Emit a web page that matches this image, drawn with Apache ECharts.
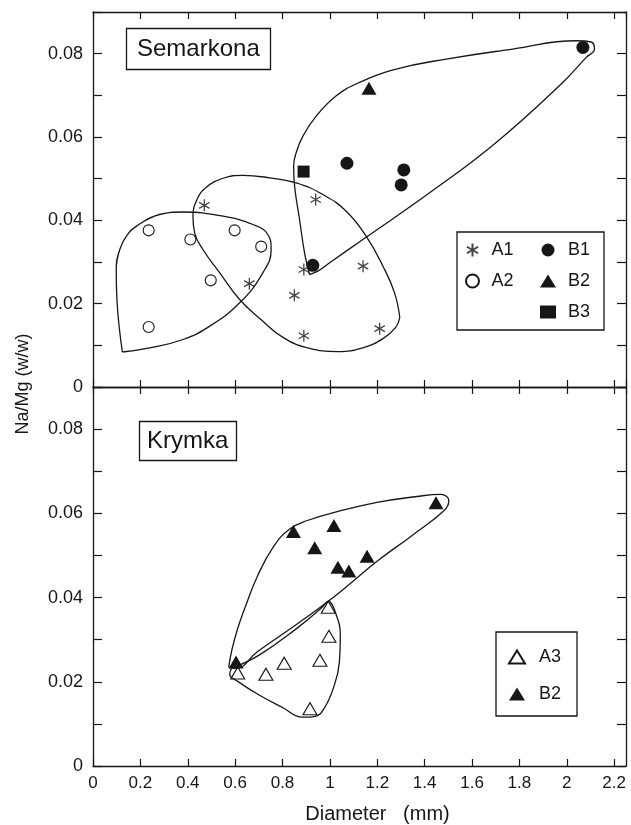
<!DOCTYPE html>
<html>
<head>
<meta charset="utf-8">
<script src="https://cdn.jsdelivr.net/npm/echarts@6/dist/echarts.min.js"></script>
<style>
  html, body { margin: 0; padding: 0; background: #fff; }
  #chart { width: 631px; height: 825px; }
</style>
</head>
<body>
<div id="chart"></div>
<script>
// ---- Semarkona chondrules: [diameter (mm), Na/Mg (w/w)] ----
const semA1 = [[0.47,0.0436],[0.94,0.0450],[0.66,0.0248],[0.89,0.0282],[1.14,0.0290],[0.85,0.0220],[0.89,0.0123],[1.21,0.0140]];
const semA2 = [[0.235,0.0376],[0.411,0.0354],[0.598,0.0376],[0.710,0.0337],[0.497,0.0256],[0.235,0.0144]];
const semB1 = [[2.068,0.0815],[1.072,0.0537],[1.312,0.0521],[1.301,0.0485],[0.928,0.0292]];
const semB2 = [[1.165,0.0717]];
const semB3 = [[0.889,0.0517]];

// ---- Krymka chondrules ----
const krA3 = [[0.611,0.0221],[0.730,0.0218],[0.807,0.0244],[0.958,0.0251],[0.996,0.0308],[0.993,0.0377],[0.916,0.0136]];
const krB2 = [[0.604,0.0247],[0.846,0.0557],[0.936,0.0518],[1.017,0.0571],[1.034,0.0472],[1.080,0.0463],[1.157,0.0498],[1.448,0.0625]];

// ---- Hand-drawn group envelopes (closed outlines, data units) ----
const semEnvA2 = [[0.124,0.0084],[0.101,0.0210],[0.098,0.0282],[0.113,0.0330],[0.143,0.0364],[0.183,0.0386],[0.281,0.0414],[0.380,0.0420],[0.549,0.0410],[0.675,0.0390],[0.738,0.0366],[0.752,0.0330],[0.717,0.0274],[0.619,0.0202],[0.493,0.0146],[0.380,0.0114],[0.239,0.0094]];
const semEnvA1 = [[1.295,0.0167],[1.278,0.0143],[1.224,0.0116],[1.139,0.0094],[1.034,0.0085],[0.907,0.0094],[0.802,0.0119],[0.709,0.0162],[0.619,0.0210],[0.535,0.0274],[0.464,0.0330],[0.429,0.0370],[0.422,0.0410],[0.439,0.0450],[0.477,0.0479],[0.549,0.0501],[0.633,0.0508],[0.746,0.0502],[0.858,0.0490],[0.970,0.0462],[1.069,0.0422],[1.153,0.0362],[1.224,0.0290],[1.273,0.0226]];
const semEnvB = [[0.914,0.0270],[0.893,0.0322],[0.872,0.0402],[0.851,0.0482],[0.847,0.0530],[0.858,0.0563],[0.886,0.0602],[0.942,0.0650],[1.027,0.0699],[1.125,0.0731],[1.280,0.0763],[1.491,0.0787],[1.772,0.0811],[2.039,0.0831],[2.103,0.0828],[2.117,0.0811],[2.082,0.0791],[1.983,0.0731],[1.702,0.0587],[1.421,0.0466],[1.139,0.0354],[0.999,0.0298],[0.949,0.0278]];
const krEnvB2 = [[0.573,0.0234],[0.586,0.0275],[0.611,0.0327],[0.645,0.0381],[0.695,0.0452],[0.762,0.0521],[0.829,0.0562],[0.905,0.0583],[1.031,0.0604],[1.199,0.0626],[1.367,0.0640],[1.468,0.0645],[1.502,0.0630],[1.481,0.0606],[1.346,0.0547],[1.199,0.0486],[1.014,0.0400],[0.863,0.0338],[0.695,0.0272],[0.603,0.0232]];
const krEnvA3 = [[0.585,0.0232],[0.703,0.0264],[0.863,0.0328],[0.964,0.0375],[0.993,0.0391],[1.023,0.0365],[1.044,0.0310],[1.040,0.0246],[1.014,0.0184],[0.976,0.0137],[0.939,0.0118],[0.884,0.0116],[0.800,0.0139],[0.703,0.0168],[0.611,0.0201],[0.577,0.0218]];

// ---- Axis ranges ----
const X_MIN = 0, X_MAX = 2.25, X_STEP = 0.2;
const Y_MIN = 0, Y_MAX = 0.09, Y_STEP = 0.01;

const INK = '#161616';
const FONT = '"Liberation Sans", Arial, Helvetica, sans-serif';
const ASTERISK = 'path://M0,-10L0,10M-8.66,-5L8.66,5M-8.66,5L8.66,-5';

const chart = echarts.init(document.getElementById('chart'), null, { renderer: 'canvas' });

const closeLoop = pts => pts.concat([pts[0]]);

function envelope(pts, g) {
  return {
    type: 'line', xAxisIndex: g * 2, yAxisIndex: g * 2,
    data: closeLoop(pts), smooth: 0.45, symbol: 'none', showSymbol: false,
    lineStyle: { color: INK, width: 1.3 }, silent: true, z: 2, animation: false
  };
}

function points(name, pts, g, symbol, size, filled) {
  return {
    type: 'scatter', name, xAxisIndex: g * 2, yAxisIndex: g * 2,
    data: pts, symbol, symbolSize: size,
    itemStyle: {
      color: filled ? INK : 'rgba(255,255,255,0)',
      borderColor: INK, borderWidth: filled ? 0 : 1.1, opacity: 1
    },
    silent: true, z: 3, animation: false
  };
}

function asterisk(name, pts, g, size) {
  return {
    type: 'scatter', name, xAxisIndex: g * 2, yAxisIndex: g * 2,
    data: pts, symbol: ASTERISK, symbolSize: size, symbolKeepAspect: true,
    itemStyle: { color: INK, borderColor: INK, borderWidth: 1.3 },
    silent: true, z: 3, animation: false
  };
}

const axisLine = { show: true, onZero: false, lineStyle: { color: INK, width: 1.3 } };

function xAxisDef(grid, position, withLabels) {
  return {
    type: 'value', gridIndex: grid, position, min: X_MIN, max: X_MAX, interval: X_STEP,
    axisLine,
    axisTick: { show: true, inside: true, length: 7, lineStyle: { color: INK, width: 1.2 } },
    axisLabel: {
      show: withLabels, showMaxLabel: false, margin: 9,
      color: INK, fontFamily: FONT, fontSize: 17,
      formatter: v => (Math.abs(v / X_STEP - Math.round(v / X_STEP)) < 1e-6 ? String(+v.toFixed(1)) : '')
    },
    splitLine: { show: false }
  };
}

function yAxisDef(grid, position, withLabels) {
  return {
    type: 'value', gridIndex: grid, position, min: Y_MIN, max: Y_MAX, interval: Y_STEP,
    axisLine,
    axisTick: { show: true, inside: true, length: 9, lineStyle: { color: INK, width: 1.2 } },
    axisLabel: {
      show: withLabels, margin: 10, color: INK, fontFamily: FONT, fontSize: 18,
      formatter: v => {
        const k = Math.round(v * 100);
        if (k % 2 !== 0 || k >= 9) return '';
        return k === 0 ? '0' : (k / 100).toFixed(2);
      }
    },
    splitLine: { show: false }
  };
}

const xBottom = xAxisDef(1, 'bottom', true);
xBottom.name = 'Diameter   (mm)';
xBottom.nameLocation = 'middle';
xBottom.nameGap = 38;
xBottom.nameTextStyle = { color: INK, fontFamily: FONT, fontSize: 20, padding: [0, 0, 0, 36] };

const legendText = pad => ({ color: INK, fontFamily: FONT, fontSize: 18, lineHeight: 18, padding: [0, 0, 0, pad] });

const option = {
  backgroundColor: '#fff',
  animation: false,
  grid: [
    { left: 93, top: 12, width: 533, height: 375 },
    { left: 93, top: 387, width: 533, height: 379 }
  ],
  xAxis: [
    xAxisDef(0, 'bottom', false),
    xAxisDef(0, 'top', false),
    xBottom,
    xAxisDef(1, 'top', false)
  ],
  yAxis: [
    yAxisDef(0, 'left', true),
    yAxisDef(0, 'right', false),
    yAxisDef(1, 'left', true),
    yAxisDef(1, 'right', false)
  ],
  title: [
    { text: 'Semarkona', left: 126, top: 28, padding: [8, 11, 8, 11],
      borderColor: INK, borderWidth: 1.3,
      textStyle: { color: INK, fontFamily: FONT, fontSize: 24, fontWeight: 'normal', lineHeight: 26 } },
    { text: 'Krymka', left: 139, top: 421, padding: [7, 8, 7, 8],
      borderColor: INK, borderWidth: 1.3,
      textStyle: { color: INK, fontFamily: FONT, fontSize: 24, fontWeight: 'normal', lineHeight: 26 } }
  ],
  legend: [
    { data: ['A1', 'A2'], orient: 'vertical', left: 465, top: 241, padding: 0,
      itemWidth: 16, itemHeight: 13, itemGap: 13, selectedMode: false, textStyle: legendText(6) },
    { data: ['B1', 'B2', 'B3'], orient: 'vertical', left: 540, top: 241, padding: 0,
      itemWidth: 16, itemHeight: 13, itemGap: 13, selectedMode: false, textStyle: legendText(7) },
    { data: ['A3', 'B2'], orient: 'vertical', left: 508, top: 648, padding: 0,
      itemWidth: 16, itemHeight: 13, itemGap: 19, selectedMode: false, textStyle: legendText(9) }
  ],
  graphic: [
    { type: 'rect', silent: true, shape: { x: 457, y: 232, width: 147, height: 98 },
      style: { fill: 'none', stroke: INK, lineWidth: 1.3 } },
    { type: 'rect', silent: true, shape: { x: 496, y: 632, width: 81, height: 84 },
      style: { fill: 'none', stroke: INK, lineWidth: 1.3 } },
    { type: 'text', silent: true, x: 23, y: 384, rotation: Math.PI / 2,
      style: { text: 'Na/Mg (w/w)', fill: INK, font: '18px ' + FONT,
               align: 'center', verticalAlign: 'middle', textAlign: 'center', textVerticalAlign: 'middle' } }
  ],
  series: [
    envelope(semEnvA2, 0),
    envelope(semEnvA1, 0),
    envelope(semEnvB, 0),
    envelope(krEnvB2, 1),
    envelope(krEnvA3, 1),
    asterisk('A1', semA1, 0, 12),
    points('A2', semA2, 0, 'circle', 11, false),
    points('B1', semB1, 0, 'circle', 13, true),
    points('B2', semB2, 0, 'triangle', [15, 13], true),
    points('B3', semB3, 0, 'rect', 12, true),
    points('A3', krA3, 1, 'triangle', [14, 12], false),
    points('B2', krB2, 1, 'triangle', [15, 13], true)
  ]
};

chart.setOption(option);
</script>
</body>
</html>
